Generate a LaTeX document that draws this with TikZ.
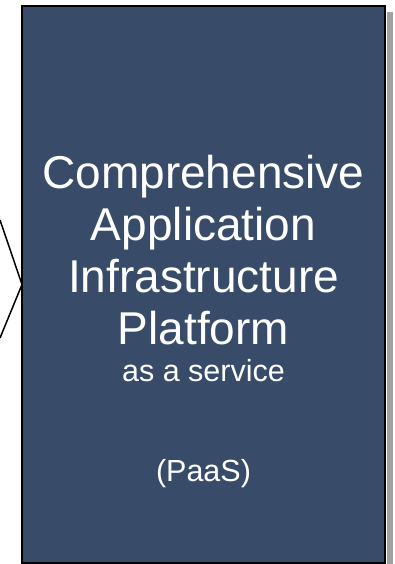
\documentclass[tikz,border=0pt]{standalone}
\usepackage{fontspec}
\setmainfont{Liberation Sans}
\usetikzlibrary{positioning}

\definecolor{paasblue}{RGB}{56,76,106}
\definecolor{shadowgray}{RGB}{160,160,160}

\begin{document}
\begin{tikzpicture}[x=1pt, y=-1pt,
        bigline/.style={text=white, font=\fontsize{46}{52}\selectfont, anchor=base, inner sep=0pt},
        smallline/.style={text=white, font=\fontsize{30.5}{36}\selectfont, anchor=base, inner sep=0pt}]
        % Fix the page to the size of the reference
        \useasboundingbox (0,0) rectangle (395,564);

        %%% Shadow strip right of the box
            \fill[shadowgray] (387,12) rectangle (393,564);

        %%% The platform box
            % Define the filled box with a thick black border
            \node[draw=black, line width=2pt, fill=paasblue, minimum width=363pt, minimum height=556pt, inner sep=0pt, outer sep=0pt] (platform) at (203.5,284.5) {};

        %%% Incoming chevron
            % Two free ends left of the box, meeting at the box's left side
            \coordinate (chevTop) at (0,220);
            \coordinate (chevBottom) at (0,338);
            \draw[line width=1.5pt] (chevTop) -- (platform.west) -- (chevBottom);

        %%% Text lines
            \node[bigline] (line1) at (203.5,188) {Comprehensive};
            \node[bigline] (line2) at (203.5,240) {Application};
            \node[bigline] (line3) at (203.5,292) {Infrastructure};
            \node[bigline] (line4) at (203.5,344) {Platform};
            \node[smallline] (line5) at (203.5,381) {as a service};
            \node[smallline] (line6) at (203.5,481) {(PaaS)};
\end{tikzpicture}
\end{document}
